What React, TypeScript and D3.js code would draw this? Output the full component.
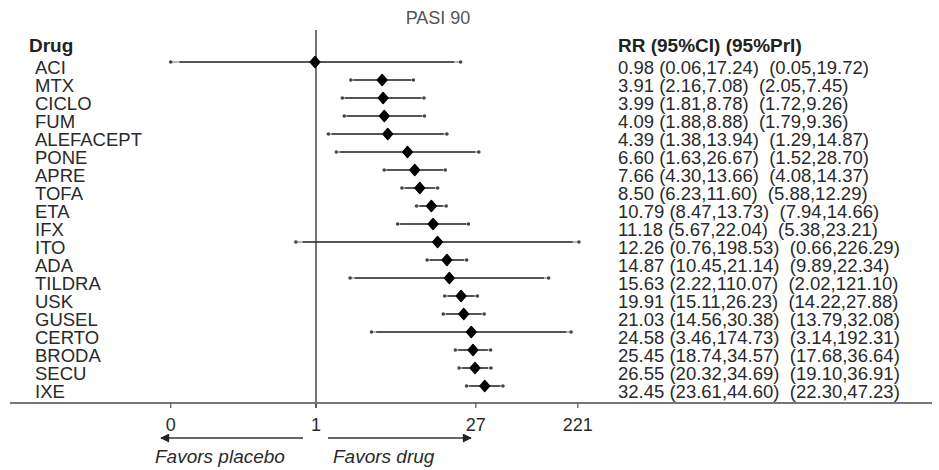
import React from "react";
import * as d3 from "d3";

const drugs = ["ACI","MTX","CICLO","FUM","ALEFACEPT","PONE","APRE","TOFA","ETA","IFX","ITO","ADA","TILDRA","USK","GUSEL","CERTO","BRODA","SECU","IXE"];
const rr = [0.98,3.91,3.99,4.09,4.39,6.60,7.66,8.50,10.79,11.18,12.26,14.87,15.63,19.91,21.03,24.58,25.45,26.55,32.45];
const ciLo = [0.06,2.16,1.81,1.88,1.38,1.63,4.30,6.23,8.47,5.67,0.76,10.45,2.22,15.11,14.56,3.46,18.74,20.32,23.61];
const ciHi = [17.24,7.08,8.78,8.88,13.94,26.67,13.66,11.60,13.73,22.04,198.53,21.14,110.07,26.23,30.38,174.73,34.57,34.69,44.60];
const priLo = [0.05,2.05,1.72,1.79,1.29,1.52,4.08,5.88,7.94,5.38,0.66,9.89,2.02,14.22,13.79,3.14,17.68,19.10,22.30];
const priHi = [19.72,7.45,9.26,9.36,14.87,28.70,14.37,12.29,14.66,23.21,226.29,22.34,121.10,27.88,32.08,192.31,36.64,36.91,47.23];
const tickValues = [0.05, 1, 27, 221];
const tickLabels = ["0", "1", "27", "221"];

const W = 939;
const H = 470;

export default function App() {
  const x = d3.scaleLog().domain([0.05, 221]).range([170.7, 577.8]);
  const y = d3.scaleLinear().domain([0, drugs.length - 1]).range([62, 386]);
  const f = d3.format(".2f");
  const font = "Arial, 'Liberation Sans', Helvetica, sans-serif";
  const txt = "#2a2a2a";
  const axisY = 403;

  return (
    <svg width={W} height={H} style={{ position: "absolute", left: 0, top: 0 }} fontFamily={font}>
      <rect width={W} height={H} fill="#fff" />
      <defs>
        <marker id="ah" viewBox="0 0 10 10" refX="9" refY="5" markerWidth="11" markerHeight="9" markerUnits="userSpaceOnUse" orient="auto">
          <path d="M0,0 L10,5 L0,10 Z" fill="#222" />
        </marker>
      </defs>
      <text x={438} y={24} textAnchor="middle" fontSize={18} fill="#555">PASI 90</text>
      <text x={29} y={52} fontSize={19} fontWeight="bold" fill="#222">Drug</text>
      <text x={618} y={52} fontSize={19} fontWeight="bold" fill="#222">RR (95%CI) (95%PrI)</text>

      {/* reference line */}
      <line x1={x(1)} x2={x(1)} y1={30} y2={axisY + 5} stroke="#444" strokeWidth={1.5} />

      {drugs.map((d, i) => {
        const yy = y(i);
        return (
          <g key={d}>
            <line x1={x(priLo[i])} x2={x(priHi[i])} y1={yy} y2={yy} stroke="#777" strokeWidth={1.2} />
            <line x1={x(ciLo[i])} x2={x(ciHi[i])} y1={yy} y2={yy} stroke="#333" strokeWidth={1.5} />
            <circle cx={x(priLo[i])} cy={yy} r={1.8} fill="#444" />
            <circle cx={x(priHi[i])} cy={yy} r={1.8} fill="#444" />
            <path d={`M0,-5.5 L4.8,0 L0,5.5 L-4.8,0 Z`} transform={`translate(${x(rr[i])},${yy})`} fill="#000" stroke="#000" strokeWidth={1.5} strokeLinejoin="round" />
            <text x={35} y={yy + 12} fontSize={18.5} fill={txt}>{d}</text>
            <text x={618} y={yy + 12} fontSize={18.5} fill={txt} style={{ whiteSpace: "pre" }}>
              {`${f(rr[i])} (${f(ciLo[i])},${f(ciHi[i])})  (${f(priLo[i])},${f(priHi[i])})`}
            </text>
          </g>
        );
      })}

      {/* axis */}
      <line x1={10} x2={932} y1={axisY} y2={axisY} stroke="#777" strokeWidth={2} />
      {tickValues.map((t, i) => (
        <g key={t}>
          <line x1={x(t)} x2={x(t)} y1={axisY} y2={axisY + 5} stroke="#555" strokeWidth={1.2} />
          <text x={x(t)} y={431} textAnchor="middle" fontSize={18} fill={txt}>{tickLabels[i]}</text>
        </g>
      ))}

      <line x1={303} x2={161} y1={438} y2={438} stroke="#333" strokeWidth={1.3} markerEnd="url(#ah)" />
      <line x1={328} x2={471} y1={438} y2={438} stroke="#333" strokeWidth={1.3} markerEnd="url(#ah)" />
      <text x={155} y={463} fontSize={19} fontStyle="italic" fill={txt}>Favors placebo</text>
      <text x={333} y={463} fontSize={19} fontStyle="italic" fill={txt}>Favors drug</text>
    </svg>
  );
}
